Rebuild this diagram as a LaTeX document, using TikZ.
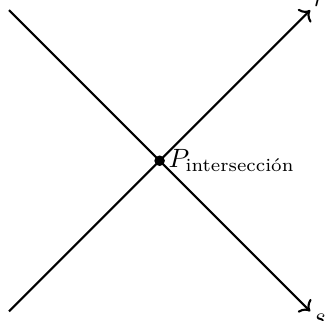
\documentclass[tikz,border=0pt]{standalone}
\usepackage{amsmath, amssymb}
\usepackage{tikz}
\usetikzlibrary{arrows.meta, positioning}

\begin{document}
\begin{tikzpicture}[
  recta/.style={->, thick},
  punto/.style={circle, fill, inner sep=0pt, minimum size=4pt}
]
  \useasboundingbox (-2.12,-2.125) rectangle (2.25,2.135);

  \coordinate (rIni) at (-2,-2);
  \coordinate (rFin) at (2,2);
  \coordinate (sIni) at (-2,2);
  \coordinate (sFin) at (2,-2);

  \draw[recta] (rIni) -- (rFin);
  \draw[recta] (sIni) -- (sFin);
  \node[anchor=south west, inner sep=1pt] (rLab) at (rFin) {$r$};
  \node[anchor=north west, inner sep=1pt] (sLab) at (sFin) {$s$};

  % punto de corte
  \node[punto] (P) at (0,0) {};
  \node[right=0pt of P, inner sep=1pt] (PLab) {$P_{\text{intersección}}$};
\end{tikzpicture}
\end{document}
